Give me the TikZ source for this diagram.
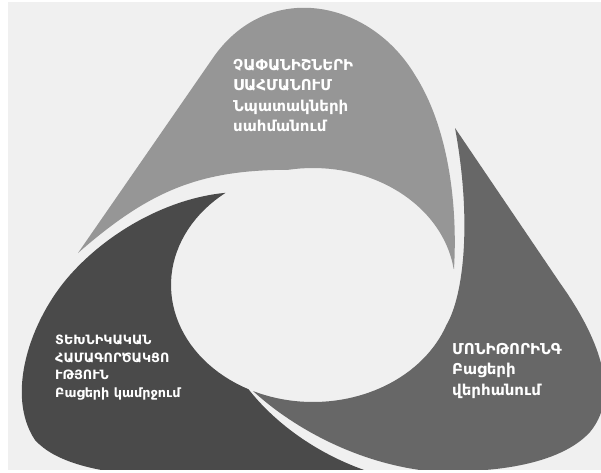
\documentclass[tikz,border=0pt]{standalone}
\usepackage{fontspec}
\setmainfont{DejaVu Sans}
\usepackage{xcolor}

\definecolor{bggray}{HTML}{F0F0F0}
\definecolor{topgray}{HTML}{969696}
\definecolor{rightgray}{HTML}{676767}
\definecolor{leftgray}{HTML}{4A4A4A}

\begin{document}
\begin{tikzpicture}[x=1pt,y=-1pt,
  bigtext/.style={text=white, align=left, anchor=north west, inner sep=0pt,
    font=\bfseries\fontsize{15}{20.5}\selectfont},
  smalltext/.style={bigtext, font=\bfseries\fontsize{12.8}{17.5}\selectfont}]

% Frame and background
\useasboundingbox (0,0) rectangle (601,472);
\fill[white] (0,0) rectangle (601,472);
\fill[bggray] (8,2) rectangle (601,470);

\begin{scope}
\clip (8,2) rectangle (601,469);

% Top shape
\fill[topgray] (78,253) -- (215,55) .. controls (270,-20) and (370,0) .. (415,75)
  .. controls (447,125) and (458,200) .. (454,269)
  -- plot[domain=352:260, samples=40, variable=\t] ({313+142*cos(\t)},{285+117*sin(\t)})
  .. controls (200,170) and (150,190) .. (78,253) -- cycle;

% Right shape
\fill[rightgray] (455,128) -- (560,283) .. controls (590,325) and (625,390) .. (590,432)
  .. controls (560,465) and (490,475) .. (420,470)
  .. controls (350,460) and (290,425) .. (253,391)
  -- plot[domain=115:20, samples=40, variable=\t] ({313+142*cos(\t)},{285+117*sin(\t)})
  .. controls (464,295) and (472,220) .. (455,128) -- cycle;

% Left shape
\fill[leftgray] plot[domain=117:232, samples=40, variable=\t] ({313+142*cos(\t)},{285+117*sin(\t)})
  .. controls (170,198) and (110,230) .. (70,275)
  .. controls (30,320) and (5,395) .. (35,440)
  .. controls (55,462) and (95,472) .. (150,476) -- (410,482)
  .. controls (340,470) and (282,432) .. (248.5,389.2) -- cycle;
\end{scope}

% Labels
\node[bigtext] (goals) at (233,59) {ՉԱՓԱՆԻՇՆԵՐԻ\\ՍԱՀՄԱՆՈՒՄ\\Նպատակների\\սահմանում};
\node[smalltext] (bridging) at (55,335) {ՏԵԽՆԻԿԱԿԱՆ\\ՀԱՄԱԳՈՐԾԱԿՑՈ\\ՒԹՅՈՒՆ\\Բացերի կամրջում};
\node[bigtext] (monitoring) at (452,343) {ՄՈՆԻԹՈՐԻՆԳ\\Բացերի\\վերհանում};

\end{tikzpicture}
\end{document}
